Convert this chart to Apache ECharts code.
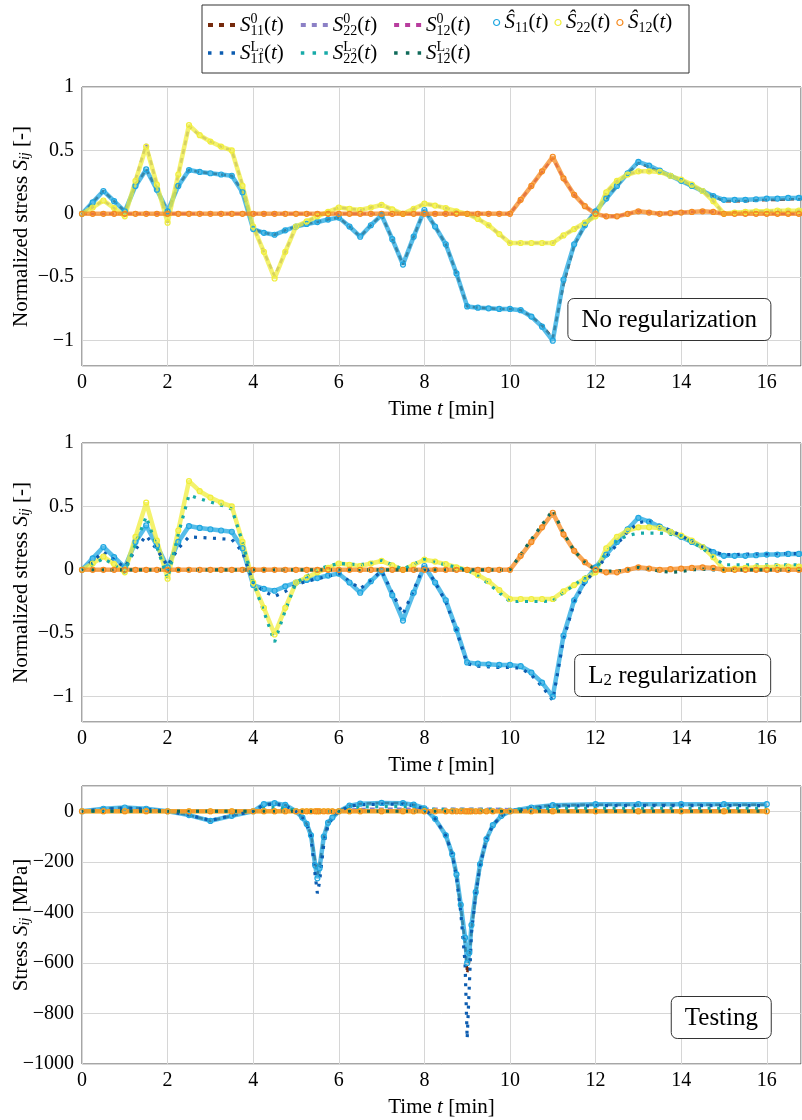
<!DOCTYPE html>
<html>
<head>
<meta charset="utf-8">
<script src="https://cdn.jsdelivr.net/npm/echarts@6.0.0/dist/echarts.min.js"></script>
<style>html,body{margin:0;background:#fff}#c{width:802px;height:1120px}</style>
</head>
<body>
<div id="c"></div>
<script>
var F = 'Liberation Serif';

// time axis of the two training panels [min]
var T = [0,0.25,0.5,0.75,1,1.25,1.5,1.75,2,2.25,2.5,2.75,3,3.25,3.5,3.75,4,4.25,4.5,4.75,
  5,5.25,5.5,5.75,6,6.25,6.5,6.75,7,7.25,7.5,7.75,8,8.25,8.5,8.75,9,9.25,9.5,9.75,
  10,10.25,10.5,10.75,11,11.25,11.5,11.75,12,12.25,12.5,12.75,13,13.25,13.5,13.75,
  14,14.25,14.5,14.75,15,15.25,15.5,15.75,16,16.25,16.5,16.75,17];

// reference (hat) stresses, training
var hatS11 = [0,0.09,0.18,0.10, 0.02,0.22,0.35,0.19, 0.02,0.22,0.345,0.33, 0.32,0.31,0.30,0.17,
  -0.12,-0.15,-0.165,-0.13, -0.10,-0.08,-0.065,-0.045, -0.03,-0.10,-0.18,-0.09, -0.01,-0.20,-0.40,-0.18,
  0.03,-0.10,-0.24,-0.47, -0.73,-0.74,-0.745,-0.75, -0.75,-0.76,-0.81,-0.89, -1.0,-0.52,-0.24,-0.09,
  0.02,0.12,0.22,0.32, 0.41,0.38,0.34,0.30, 0.26,0.22,0.18,0.14, 0.11,0.11,0.11,0.115,
  0.12,0.12,0.125,0.125, 0.13];
var hatS22 = [0,0.05,0.105,0.045, -0.02,0.26,0.53,0.23, -0.07,0.31,0.70,0.62, 0.57,0.53,0.50,0.22,
  -0.10,-0.30,-0.51,-0.30, -0.10,-0.06,-0.02,0.015, 0.05,0.04,0.03,0.05, 0.07,0.035,0.0,0.04,
  0.08,0.065,0.045,0.02, 0.0,-0.04,-0.09,-0.16, -0.23,-0.23,-0.23,-0.23, -0.23,-0.17,-0.12,-0.07,
  -0.02,0.17,0.26,0.31, 0.335,0.335,0.33,0.30, 0.27,0.23,0.18,0.10, 0.0,0.01,0.015,0.02,
  0.02,0.025,0.025,0.025, 0.025];
var hatS12 = [0,0,0,0, 0,0,0,0, 0,0,0,0, 0,0,0,0, 0,0,0,0, 0,0,0,0, 0,0,0,0, 0,0,0,0,
  0,0,0,0, 0,0,0,0, 0,0.11,0.22,0.335, 0.45,0.28,0.15,0.06, 0.0,-0.02,-0.02,0.0,
  0.02,0.01,0.0,0.005, 0.01,0.015,0.02,0.015, 0,0,0,0, 0,0,0,0, 0];

// model without regularization
var S0_11 = [0,0.09,0.18,0.10, 0.02,0.22,0.35,0.19, 0.02,0.22,0.345,0.33, 0.32,0.31,0.30,0.18,
  -0.12,-0.15,-0.165,-0.13, -0.10,-0.08,-0.065,-0.045, -0.03,-0.10,-0.18,-0.09, -0.01,-0.20,-0.40,-0.18,
  0.03,-0.10,-0.24,-0.47, -0.73,-0.74,-0.745,-0.75, -0.75,-0.76,-0.81,-0.88, -0.98,-0.56,-0.25,-0.09,
  0.02,0.12,0.22,0.32, 0.40,0.37,0.33,0.30, 0.26,0.22,0.18,0.14, 0.10,0.10,0.10,0.105,
  0.11,0.11,0.115,0.115, 0.12];
var S0_22 = [0,0.05,0.105,0.045, -0.02,0.27,0.55,0.23, -0.07,0.31,0.69,0.62, 0.57,0.53,0.50,0.23,
  -0.10,-0.30,-0.49,-0.30, -0.10,-0.06,-0.02,0.015, 0.05,0.04,0.03,0.05, 0.07,0.035,0.0,0.04,
  0.08,0.065,0.045,0.02, 0.0,-0.04,-0.09,-0.16, -0.23,-0.23,-0.23,-0.23, -0.23,-0.17,-0.12,-0.07,
  -0.02,0.17,0.26,0.31, 0.335,0.335,0.33,0.30, 0.27,0.23,0.18,0.10, 0.0,0.01,0.015,0.02,
  0.02,0.025,0.025,0.025, 0.025];
var S0_12 = [0,0,0,0, 0,0,0,0, 0,0,0,0, 0,0,0,0, 0,0,0,0, 0,0,0,0, 0,0,0,0, 0,0,0,0,
  0,0,0,0, 0,0,0,0, 0,0.11,0.22,0.33, 0.44,0.28,0.15,0.06, 0.0,-0.02,-0.02,0.0,
  0.02,0.01,0.0,0.005, 0.01,0.015,0.02,0.015, 0,0,0,0, 0,0,0,0, 0];

// model with L2 regularization
var L2_11 = [0,0.07,0.14,0.08, 0.02,0.16,0.27,0.16, 0.03,0.17,0.26,0.255, 0.25,0.245,0.24,0.14,
  -0.10,-0.17,-0.21,-0.17, -0.12,-0.09,-0.07,-0.05, -0.03,-0.09,-0.15,-0.08, -0.01,-0.18,-0.35,-0.16,
  0.04,-0.10,-0.25,-0.48, -0.74,-0.76,-0.765,-0.77, -0.77,-0.775,-0.83,-0.92, -1.03,-0.55,-0.26,-0.10,
  0.0,0.10,0.20,0.30, 0.37,0.39,0.35,0.31, 0.27,0.22,0.18,0.14, 0.12,0.12,0.123,0.125,
  0.126,0.127,0.127,0.128, 0.128];
var L2_22 = [0,0.04,0.09,0.04, -0.02,0.20,0.42,0.18, -0.07,0.28,0.59,0.56, 0.535,0.51,0.48,0.22,
  -0.10,-0.33,-0.57,-0.32, -0.10,-0.05,0.0,0.03, 0.05,0.045,0.04,0.055, 0.075,0.04,0.005,0.045,
  0.085,0.06,0.04,0.02, 0.0,-0.05,-0.11,-0.18, -0.25,-0.25,-0.25,-0.25, -0.245,-0.18,-0.12,-0.06,
  0.0,0.14,0.23,0.27, 0.29,0.29,0.29,0.28, 0.26,0.22,0.17,0.10, 0.04,0.04,0.04,0.04,
  0.04,0.04,0.04,0.04, 0.04];
var L2_12 = [0,0,0,0, 0,0,0,0, 0,0,0,0, 0,0,0,0, 0,0,0,0, 0,0,0,0, 0,0,0,0, 0,0,0,0,
  0,0,0,0, 0,0,0,0, 0,0.12,0.24,0.355, 0.47,0.29,0.15,0.06, 0.0,-0.01,-0.01,0.0,
  0.02,0.005,-0.01,-0.02, -0.015,0.0,0.005,0.0, 0,0,0,0, 0,0,0,0, 0];

// testing panel [MPa]
var T3 = [0,0.5,1,1.5,2,2.5,3,3.5,4, 4.25,4.5,4.75,5, 5.15,5.25,5.35,5.45,5.5,5.55,5.65,5.75,5.85,
  6,6.25,6.5,7,7.5,7.75,8, 8.25,8.5,8.65,8.75,8.85,8.95,9, 9.05,9.1,9.2,9.3,9.45,9.6,9.8,10,
  10.5,11,12,13,14,15,16];
var hatS11_3 = [0,10,15,10,0,-15,-38,-18,0, 28,32,25,0, -25,-50,-95,-215,-265,-225,-100,-45,-25,
  0,22,30,33,32,26,12, -30,-95,-170,-250,-370,-500,-600, -560,-450,-320,-210,-110,-55,-18,0,
  15,24,28,28,28,28,28];
var S0_11_3 = [0,10,15,10,0,-15,-38,-18,0, 28,32,25,0, -25,-50,-90,-200,-250,-215,-100,-45,-25,
  0,22,30,33,32,26,12, -30,-95,-170,-250,-380,-520,-640, -590,-470,-330,-215,-110,-55,-18,0,
  15,24,26,26,26,26,26];
var L2_11_3 = [0,8,12,8,0,-15,-36,-17,0, 25,28,22,0, -25,-50,-100,-255,-325,-280,-130,-55,-28,
  0,20,26,28,28,22,10, -30,-95,-170,-260,-400,-600,-900, -690,-480,-330,-215,-110,-55,-18,0,
  12,20,22,22,22,22,22];
var S0_22_3 = [0,0,0,0,0,0,0,0,0, 5,6,5,2, 0,0,0,0,0,0,0,0,0,
  0,6,9,10,10,10,10, 10,10,10,10,10,10,10, 10,10,10,10,10,10,9,8,
  5,4,4,4,4,4,4];
var L2_22_3 = [0,0,0,0,0,0,0,0,0, 12,15,12,4, 0,0,0,0,0,0,0,0,0,
  0,12,17,18,18,16,10, 8,8,8,8,8,8,8, 8,8,8,8,8,8,8,8,
  10,12,12,12,12,12,12];
var zero3 = [0,0,0,0,0,0,0,0,0, 0,0,0,0, 0,0,0,0,0,0,0,0,0,
  0,0,0,0,0,0,0, 0,0,0,0,0,0,0, 0,0,0,0,0,0,0,0,
  0,0,0,0,0,0,0];

var STY = {
  S0_11: {c: '#762a0d', k: 'dash'}, S0_22: {c: '#8c80c6', k: 'dash'}, S0_12: {c: '#b83d9e', k: 'dash'},
  Sh11: {c: '#1fa7e1', k: 'hat'}, Sh22: {c: '#f0ee3c', k: 'hat'}, Sh12: {c: '#f58a1f', k: 'hat'},
  L2_11: {c: '#0c5cb0', k: 'dot'}, L2_22: {c: '#17aaa8', k: 'dot'}, L2_12: {c: '#0f6a5a', k: 'dot'}
};
var LBL = {
  S0_11: '{i|S}{sp|0}{sb|11}{n|(}{i|t}{n|)}', S0_22: '{i|S}{sp|0}{sb|22}{n|(}{i|t}{n|)}',
  S0_12: '{i|S}{sp|0}{sb|12}{n|(}{i|t}{n|)}',
  Sh11: '{i|Ŝ}{sb|11}{n|(}{i|t}{n|)}', Sh22: '{i|Ŝ}{sb|22}{n|(}{i|t}{n|)}', Sh12: '{i|Ŝ}{sb|12}{n|(}{i|t}{n|)}',
  L2_11: '{i|S}{sp|L₂}{sb|11}{n|(}{i|t}{n|)}', L2_22: '{i|S}{sp|L₂}{sb|22}{n|(}{i|t}{n|)}',
  L2_12: '{i|S}{sp|L₂}{sb|12}{n|(}{i|t}{n|)}'
};

var panels = [
  {x: T, s: [['S0_11', S0_11], ['S0_22', S0_22], ['S0_12', S0_12],
             ['Sh11', hatS11], ['Sh22', hatS22], ['Sh12', hatS12]]},
  {x: T, s: [['Sh11', hatS11], ['Sh22', hatS22], ['Sh12', hatS12],
             ['L2_11', L2_11], ['L2_22', L2_22], ['L2_12', L2_12]]},
  {x: T3, s: [['S0_11', S0_11_3], ['S0_22', S0_22_3], ['S0_12', zero3],
              ['Sh11', hatS11_3], ['Sh22', zero3], ['Sh12', zero3],
              ['L2_11', L2_11_3], ['L2_22', L2_22_3], ['L2_12', zero3]]}
];

function mk(name, xs, ys, gi) {
  var st = STY[name];
  var s = {type: 'line', name: name, xAxisIndex: gi, yAxisIndex: gi, silent: true,
    data: xs.map(function (t, k) { return [t, ys[k]]; })};
  if (st.k == 'hat') {
    s.symbol = 'circle'; s.symbolSize = 5; s.showAllSymbol = true;
    s.itemStyle = {color: 'rgba(255,255,255,0)', borderColor: st.c, borderWidth: 1.2};
    s.lineStyle = {color: st.c, width: 4.5, opacity: 0.75};
  } else if (st.k == 'dash') {
    s.symbol = 'none';
    s.itemStyle = {color: st.c};
    s.lineStyle = {color: st.c, width: 2.6, type: [5, 4]};
  } else {
    s.symbol = 'none';
    s.itemStyle = {color: st.c};
    s.lineStyle = {color: st.c, width: 3.2, type: [3, 6.5]};
  }
  return s;
}

var series = [];
panels.forEach(function (p, gi) {
  p.s.forEach(function (e) { series.push(mk(e[0], p.x, e[1], gi)); });
});

function fmt(v) { return v < 0 ? '\u2212' + (-v) : String(v); }

var nameRich = {
  i: {fontFamily: F, fontStyle: 'italic', fontSize: 21},
  sb: {fontFamily: F, fontStyle: 'italic', fontSize: 14, verticalAlign: 'bottom', lineHeight: 14}
};
var nameStyle = {fontFamily: F, fontSize: 21, color: '#000', rich: nameRich};
var lblStyle = {fontFamily: F, fontSize: 20, color: '#000'};

var grids = [87, 443, 786].map(function (top, i) {
  return {left: 82, top: top, width: 719, height: i == 2 ? 278 : 279, outerBoundsMode: 'none',
    show: true, borderColor: '#4d4d4d', borderWidth: 1};
});

var xAxes = [0, 1, 2].map(function (i) {
  return {type: 'value', gridIndex: i, min: 0, max: 16.8, interval: 2,
    axisLine: {show: false, onZero: false}, axisTick: {show: false},
    splitLine: {lineStyle: {color: '#d6d6d6'}},
    axisLabel: Object.assign({margin: 7, showMaxLabel: false, formatter: fmt}, lblStyle),
    name: 'Time {i|t} [min]', nameLocation: 'middle', nameGap: 33, nameMoveOverlap: false,
    nameTextStyle: nameStyle};
});

var yAxes = [0, 1, 2].map(function (i) {
  var a = {type: 'value', gridIndex: i,
    axisLine: {show: false, onZero: false}, axisTick: {show: false},
    splitLine: {lineStyle: {color: '#d6d6d6'}},
    axisLabel: Object.assign({margin: 8, formatter: fmt}, lblStyle),
    nameLocation: 'middle', nameGap: 50, nameMoveOverlap: false, nameTextStyle: nameStyle};
  if (i < 2) {
    a.min = -1.2; a.max = 1; a.minInterval = 0.5; a.maxInterval = 0.5;
    a.axisLabel.showMinLabel = false;
    a.name = 'Normalized stress {i|S}{sb|ij} [-]';
  } else {
    a.min = -1000; a.max = 100; a.interval = 200;
    a.axisLabel.showMaxLabel = false;
    a.name = 'Stress {i|S}{sb|ij} [MPa]';
  }
  return a;
});

var legRich = {
  i: {fontFamily: F, fontStyle: 'italic', fontSize: 21, lineHeight: 26},
  n: {fontFamily: F, fontSize: 21, lineHeight: 26},
  sp: {fontFamily: F, fontSize: 14, lineHeight: 14, verticalAlign: 'top', width: 0},
  sb: {fontFamily: F, fontSize: 14, lineHeight: 14, verticalAlign: 'bottom'}
};
var legBase = {selectedMode: false, padding: 0, formatter: function (n) { return LBL[n]; },
  textStyle: {fontFamily: F, fontSize: 21, color: '#000', rich: legRich}};

var DASH_ICON = 'path://M0,0h5v4h-5zM11,0h5v4h-5zM22,0h5v4h-5z';
var DOT_ICON = 'path://M0,0h3.5v3.5h-3.5zM11.75,0h3.5v3.5h-3.5zM23.5,0h3.5v3.5h-3.5z';

function lineItem(n) {
  return {name: n, icon: STY[n].k == 'dash' ? DASH_ICON : DOT_ICON, itemStyle: {color: STY[n].c}};
}
function hatItem(n) {
  return {name: n, icon: 'circle', itemStyle: {color: '#fff', borderColor: STY[n].c, borderWidth: 1.2}};
}

var boxStyle = {padding: [9, 14, 8, 14], borderColor: '#333', borderWidth: 1, borderRadius: 6,
  backgroundColor: '#fff',
  textStyle: {fontFamily: F, fontSize: 25, fontWeight: 'normal', color: '#000', lineHeight: 26,
    rich: {sb: {fontFamily: F, fontSize: 17, verticalAlign: 'bottom', lineHeight: 17}}}};

var option = {
  animation: false,
  title: [
    Object.assign({text: 'No regularization', right: 31, top: 298}, boxStyle),
    Object.assign({text: 'L{sb|2} regularization', right: 31, top: 654}, boxStyle),
    Object.assign({text: 'Testing', right: 30, top: 996}, boxStyle)
  ],
  legend: [
    Object.assign({data: ['S0_11', 'S0_22', 'S0_12'].map(lineItem), left: 208, top: 12,
      itemWidth: 27, itemHeight: 4, itemGap: 17}, legBase),
    Object.assign({data: ['Sh11', 'Sh22', 'Sh12'].map(hatItem), left: 493, top: 12,
      itemWidth: 6, itemHeight: 6, itemGap: 6}, legBase),
    Object.assign({data: ['L2_11', 'L2_22', 'L2_12'].map(lineItem), left: 208, top: 40,
      itemWidth: 27, itemHeight: 4, itemGap: 17}, legBase)
  ],
  graphic: [{type: 'rect', shape: {x: 202, y: 5, width: 487, height: 68},
    style: {fill: 'rgba(0,0,0,0)', stroke: '#333', lineWidth: 1}}],
  grid: grids,
  xAxis: xAxes,
  yAxis: yAxes,
  series: series
};

var chart = echarts.init(document.getElementById('c'));
chart.setOption(option);
</script>
</body>
</html>
